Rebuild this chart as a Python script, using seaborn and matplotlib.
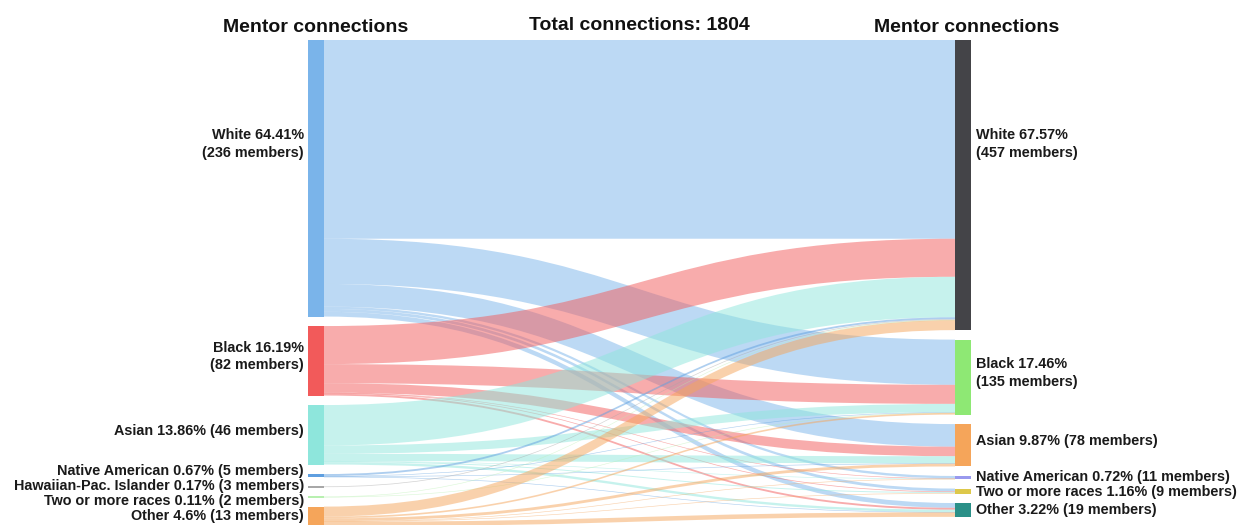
import matplotlib
matplotlib.use("Agg")
import matplotlib.pyplot as plt
from matplotlib.path import Path
from matplotlib.patches import PathPatch, Rectangle
import seaborn as sns
import numpy as np

sns.set_theme(style="white")
plt.rcParams["font.family"] = ["Liberation Sans", "DejaVu Sans"]

# --- Data ---
source_names = ["White", "Black", "Asian", "Native American",
                "Hawaiian-Pac. Islander", "Two or more races", "Other"]
source_pct = ["64.41%", "16.19%", "13.86%", "0.67%", "0.17%", "0.11%", "4.6%"]
source_members = [236, 82, 46, 5, 3, 2, 13]
source_colors = ["#7ab4ea", "#f25a5a", "#8ee6dc", "#5f9fe0",
                 "#a8a8a8", "#b8f0b0", "#f5a55a"]

target_names = ["White", "Black", "Asian", "Native American",
                "Two or more races", "Other"]
target_pct = ["67.57%", "17.46%", "9.87%", "0.72%", "1.16%", "3.22%"]
target_members = [457, 135, 78, 11, 9, 19]
target_colors = ["#444448", "#8ee874", "#f5a55a", "#9999ee", "#ddc84a", "#2a9088"]

# connections: rows = source (left), cols = target (right)
flows = np.array([
    [835, 190, 95, 10, 12, 20],
    [160, 80, 40, 1, 3, 8],
    [170, 35, 30, 1, 4, 10],
    [8, 2, 1, 0, 0, 1],
    [3, 0, 0, 0, 0, 0],
    [1, 1, 0, 0, 0, 0],
    [42, 7, 12, 1, 2, 19],
])

# two-line labels for the big groups
two_line = ["White", "Black"]

# --- Layout ---
W, H = 1242, 525
scale = 0.238      # px per connection
pad = 9.5          # px between nodes
top = 40
node_w = 16
x_left, x_right = 308, 955

fig = plt.figure(figsize=(W / 100, H / 100), dpi=100)
ax = fig.add_axes([0, 0, 1, 1])
ax.set_xlim(0, W)
ax.set_ylim(H, 0)
ax.axis("off")


def stack(totals):
    pos = []
    y = top
    for t in totals:
        h = t * scale
        pos.append((y, h))
        y += h + pad
    return pos


src_tot = flows.sum(axis=1)
tgt_tot = flows.sum(axis=0)
src_pos = stack(src_tot)
tgt_pos = stack(tgt_tot)

# source side order: by target index; target side order: by source index
src_y = {}
for i in range(len(source_names)):
    y = src_pos[i][0]
    for j in range(len(target_names)):
        v = flows[i, j]
        if v > 0:
            src_y[(i, j)] = y
            y += v * scale
tgt_y = {}
for j in range(len(target_names)):
    y = tgt_pos[j][0]
    for i in range(len(source_names)):
        v = flows[i, j]
        if v > 0:
            tgt_y[(i, j)] = y
            y += v * scale

x0 = x_left + node_w
x1 = x_right
xm = (x0 + x1) / 2
for i in range(len(source_names)):
    for j in range(len(target_names)):
        v = flows[i, j]
        if v <= 0:
            continue
        h = max(v * scale, 0.6)
        ys, yt = src_y[(i, j)], tgt_y[(i, j)]
        verts = [
            (x0, ys), (xm, ys), (xm, yt), (x1, yt),
            (x1, yt + h), (xm, yt + h), (xm, ys + h), (x0, ys + h),
            (x0, ys),
        ]
        codes = [Path.MOVETO, Path.CURVE4, Path.CURVE4, Path.CURVE4,
                 Path.LINETO, Path.CURVE4, Path.CURVE4, Path.CURVE4,
                 Path.CLOSEPOLY]
        ax.add_patch(PathPatch(Path(verts, codes), facecolor=source_colors[i],
                               edgecolor="none", alpha=0.5, zorder=1))

label_kw = dict(fontsize=10.4, fontweight="bold", color="#1a1a1a",
                va="center", linespacing=1.3)


def label_text(name, pct, mem):
    if name in two_line:
        return f"{name} {pct}\n({mem} members)"
    return f"{name} {pct} ({mem} members)"


def label_positions(pos, gap=15):
    ys = []
    for y, h in pos:
        c = y + h / 2
        if h > 20:
            c = min(c - 4, y + 104)
        ys.append(c)
    ys = np.array(ys, dtype=float)
    # push overlapping labels apart
    for _ in range(200):
        for k in range(len(ys) - 1):
            d = ys[k + 1] - ys[k]
            if d < gap:
                s = (gap - d) / 2
                ys[k] -= s
                ys[k + 1] += s
    return ys


src_ly = label_positions(src_pos)
tgt_ly = label_positions(tgt_pos)

for k, (y, h) in enumerate(src_pos):
    hh = max(h, 2)
    ax.add_patch(Rectangle((x_left, y + h / 2 - hh / 2), node_w, hh,
                           facecolor=source_colors[k], edgecolor="none", zorder=2))
    ax.text(x_left - 4, src_ly[k],
            label_text(source_names[k], source_pct[k], source_members[k]),
            ha="right", **label_kw)

for k, (y, h) in enumerate(tgt_pos):
    hh = max(h, 2)
    ax.add_patch(Rectangle((x_right, y + h / 2 - hh / 2), node_w, hh,
                           facecolor=target_colors[k], edgecolor="none", zorder=2))
    ax.text(x_right + node_w + 5, tgt_ly[k],
            label_text(target_names[k], target_pct[k], target_members[k]),
            ha="left", **label_kw)

title_kw = dict(fontsize=14, fontweight="bold", color="#111111", va="center", ha="center")
ax.text(x_left + node_w / 2, 27, "Mentor connections", **title_kw)
ax.text(x_right + node_w / 2 + 4, 27, "Mentor connections", **title_kw)
ax.text((x0 + x1) / 2, 25, f"Total connections: {flows.sum()}", **title_kw)

fig.savefig("out.png", dpi=100)
